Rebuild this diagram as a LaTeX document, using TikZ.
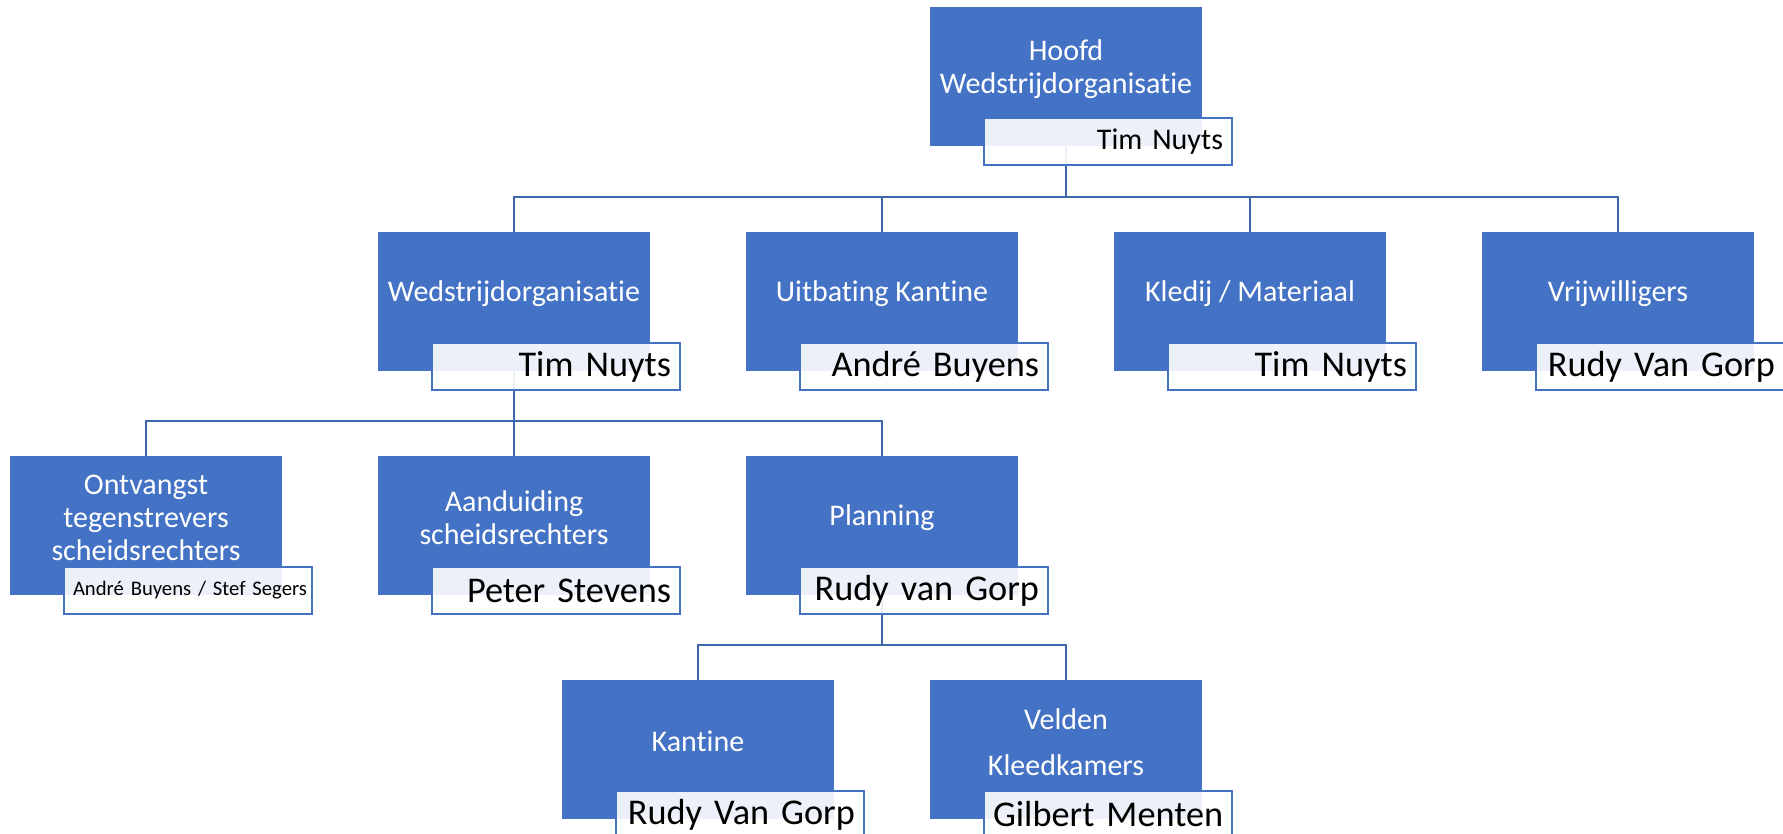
\documentclass[tikz,border=0pt]{standalone}
\usepackage{fontspec}
\setmainfont{Carlito}[Ligatures={NoCommon}]
\usetikzlibrary{backgrounds}
\definecolor{acc}{HTML}{4472C4}
\definecolor{lin}{HTML}{3D66AE}
\begin{document}
\begin{tikzpicture}[x=0.75pt,y=-0.75pt,
  box/.style={fill=acc, minimum width=204pt, minimum height=104.25pt, inner sep=0pt, anchor=north},
  btxt/.style={text=white, align=center, font=\fontsize{22.5}{24.75}\selectfont, inner sep=0pt},
  nm/.style={draw=acc, line width=1.5pt, fill=white, fill opacity=0.9, text opacity=1,
    minimum width=186pt, minimum height=35.25pt, text width=172.5pt, align=right,
    inner xsep=6.75pt, inner ysep=0pt, anchor=north west, font=\fontsize{27.2}{30}\selectfont},
  nmsmall/.style={font=\fontsize{22.5}{24}\selectfont},
  nmtiny/.style={font=\fontsize{15.5}{18}\selectfont},
  conn/.style={draw=lin, line width=1.5pt}]
\useasboundingbox (0,0) rectangle (1783,833);
\clip (0,0) rectangle (1783,833);

% main boxes
\node[box] (hoofd) at (1066,7) {};
\node[box] (wo) at (514,232) {};
\node[box] (uk) at (882,232) {};
\node[box] (km) at (1250,232) {};
\node[box] (vr) at (1618,232) {};
\node[box] (ot) at (146,456) {};
\node[box] (as) at (514,456) {};
\node[box] (pl) at (882,456) {};
\node[box] (ka) at (698,680) {};
\node[box] (ve) at (1066,680) {};

% box texts
\node[btxt] (hoofd-t) at ([yshift=6pt]hoofd.center) {Hoofd\\Wedstrijdorganisatie};
\node[btxt] (wo-t) at ([yshift=6pt]wo.center) {Wedstrijdorganisatie};
\node[btxt] (uk-t) at ([yshift=6pt]uk.center) {Uitbating Kantine};
\node[btxt] (km-t) at ([yshift=6pt]km.center) {Kledij / Materiaal};
\node[btxt] (vr-t) at ([yshift=6pt]vr.center) {Vrijwilligers};
\node[btxt] (ot-t) at ([yshift=6pt]ot.center) {Ontvangst\\tegenstrevers\\scheidsrechters};
\node[btxt] (as-t) at ([yshift=6pt]as.center) {Aanduiding\\scheidsrechters};
\node[btxt] (pl-t) at ([yshift=6pt]pl.center) {Planning};
\node[btxt] (ka-t) at ([yshift=6pt]ka.center) {Kantine};
\node[btxt] (ve-t) at ([yshift=6pt]ve.center) {Velden\\[9.75pt]Kleedkamers};

% name boxes
\node[nm,nmsmall] (hoofd-n) at (983,117) {\mbox{Tim Nuyts}};
\node[nm] (wo-n) at (431,342) {\mbox{Tim Nuyts}};
\node[nm] (uk-n) at (799,342) {\mbox{André Buyens}};
\node[nm] (km-n) at (1167,342) {\mbox{Tim Nuyts}};
\node[nm] (vr-n) at (1535,342) {\mbox{Rudy Van Gorp}};
\node[nm,nmtiny] (ot-n) at (63,566) {\mbox{André Buyens / Stef Segers}};
\node[nm] (as-n) at (431,566) {\mbox{Peter Stevens}};
\node[nm] (pl-n) at (799,566) {\mbox{Rudy van Gorp}};
\node[nm] (ka-n) at (615,790) {\mbox{Rudy Van Gorp}};
\node[nm] (ve-n) at (983,790) {\mbox{Gilbert Menten}};

% connectors
\coordinate (b0) at (1066,197);
\coordinate (b1) at (514,421);
\coordinate (b2) at (882,645);
\begin{pgfonlayer}{background}
\draw[conn] (hoofd.south) -- (b0);
\foreach \c in {wo,uk,km,vr} \draw[conn] (b0) -| (\c.north);
\draw[conn] (wo.south) -- (b1);
\foreach \c in {ot,as,pl} \draw[conn] (b1) -| (\c.north);
\draw[conn] (pl.south) -- (b2);
\foreach \c in {ka,ve} \draw[conn] (b2) -| (\c.north);
\end{pgfonlayer}
\end{tikzpicture}
\end{document}
